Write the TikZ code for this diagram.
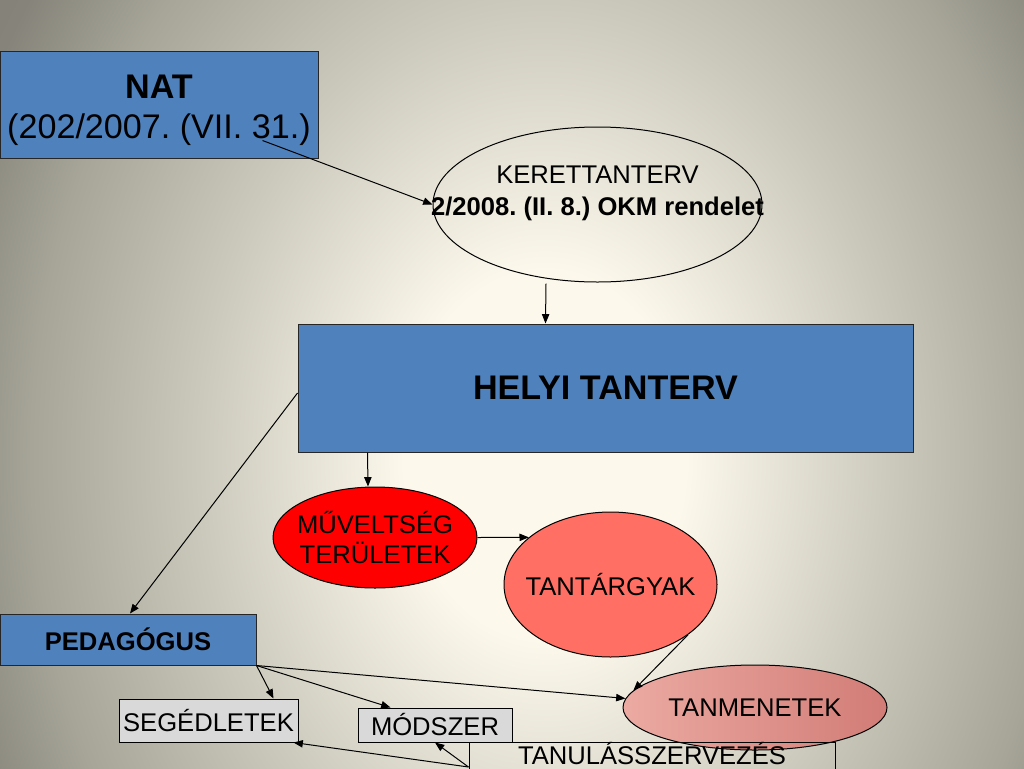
\documentclass[tikz,border=0pt]{standalone}
\usepackage{fontspec}
\setmainfont{Liberation Sans}
\frenchspacing
\usetikzlibrary{calc,shapes.geometric,arrows.meta}
\definecolor{bgc0}{HTML}{FCF9EC}
\definecolor{bgc1}{HTML}{CBC9BB}
\definecolor{bgc2}{HTML}{A6A598}
\definecolor{bgc3}{HTML}{86847A}
\definecolor{bgc4}{HTML}{7A786E}
\definecolor{boxblue}{HTML}{4F81BD}
\definecolor{boxgrey}{HTML}{D9D9D9}
\definecolor{tgred}{HTML}{FF6F63}
\definecolor{tmleft}{HTML}{EBAAA2}
\definecolor{tmright}{HTML}{D27C76}
\pgfdeclareradialshading{bgshade}{\pgfpoint{0bp}{0bp}}{color(0bp)=(bgc0); color(11bp)=(bgc0); color(27bp)=(bgc1); color(40bp)=(bgc2); color(48.5bp)=(bgc3); color(65bp)=(bgc4)}
\begin{document}
\begin{tikzpicture}[x=0.75pt,y=-0.75pt,
  bluebox/.style={draw=black!85, fill=boxblue, line width=0.75pt, inner sep=0pt, align=center},
  greybox/.style={draw=black, fill=boxgrey, line width=0.75pt, inner sep=0pt},
  oval/.style={ellipse, draw=black, line width=0.75pt, inner sep=0pt},
  arr/.style={-{Triangle[length=7pt,width=5.5pt]}, line width=0.75pt},
  big/.style={font=\fontsize{25.6}{30}\selectfont},
  norm/.style={font=\fontsize{19.2}{22.5}\selectfont}]
\useasboundingbox (0,0) rectangle (1024,768);
\clip (0,0) rectangle (1024,768);
\fill[bgc4] (0,0) rectangle (1024,768);
\begin{scope}[shift={(545,455)}, xscale=9.6, yscale=12.54]
  \pgftext{\pgfuseshading{bgshade}}
\end{scope}

\node[bluebox, minimum width=238.5pt, minimum height=80.25pt,
  label={[big, align=center, inner sep=0pt, yshift=-4pt]center:\textbf{NAT}\\(202/2007. (VII. 31.)}] (nat) at (159,104.5) {};

\node[oval, minimum width=246.75pt, minimum height=116.25pt,
  label={[font=\fontsize{19.2}{24}\selectfont, align=center, inner sep=0pt, yshift=8.6pt]center:KERETTANTERV\\\textbf{2/2008. (II. 8.) OKM rendelet}}] (kt) at (597.5,204.5) {};

\node[bluebox, minimum width=461.25pt, minimum height=96pt, font=\fontsize{25.6}{30}\selectfont\bfseries] (ht) at (605.5,388) {HELYI TANTERV};

\node[oval, fill=red, minimum width=153pt, minimum height=75.75pt,
  label={[norm, align=center, inner sep=0pt]center:MŰVELTSÉG\\TERÜLETEK}] (mv) at (375,537.5) {};

\node[oval, fill=tgred, minimum width=159.75pt, minimum height=108.75pt,
  label={[norm, inner sep=0pt]center:TANTÁRGYAK}] (tg) at (610.5,584.5) {};

\node[oval, left color=tmleft, right color=tmright, minimum width=198pt, minimum height=63.75pt,
  label={[norm, inner sep=0pt]center:TANMENETEK}] (tm) at (755,707.5) {};

\node[bluebox, minimum width=192pt, minimum height=38.25pt, font=\fontsize{19.2}{22.5}\selectfont\bfseries] (pg) at (128,639.5) {PEDAGÓGUS};

\node[greybox, norm, minimum width=134.25pt, minimum height=32.25pt] (sg) at (208.5,720.5) {SEGÉDLETEK};
\node[greybox, norm, minimum width=115.5pt, minimum height=25.5pt] (md) at (435,725) {MÓDSZER};

\node[draw=black, line width=0.75pt, norm, anchor=north, minimum width=274.5pt, inner sep=0pt, text height=16.5pt, text depth=15.75pt] (ts) at (652,742) {TANULÁSSZERVEZÉS};

\draw[arr] ($(nat.south east)+(-56,-18)$) -- (kt.west);
\draw[arr] ($(kt.south)+(-51.5,1)$) -- ($(ht.north west)+(248,0)$);
\draw[arr] ($(ht.south west)+(70,0)$) -- ($(mv.north)+(-7,0)$);
\draw[arr] (mv.east) -- (tg.150);
\draw[arr] (tg.-33) -- (tm.172);
\draw[arr] ($(ht.west)+(0,5)$) -- ($(pg.north)+(2,0)$);
\draw[arr] (pg.south east) -- ($(sg.north east)+(-25,0)$);
\draw[arr] (pg.south east) -- ($(md.north west)+(33,0)$);
\draw[arr] (pg.south east) -- (tm.176);
\draw[arr] ($(ts.north west)+(0,25)$) -- ($(sg.south east)+(-5,0)$);
\draw[arr] ($(ts.north west)+(0,25)$) -- (md.south);
\end{tikzpicture}
\end{document}
